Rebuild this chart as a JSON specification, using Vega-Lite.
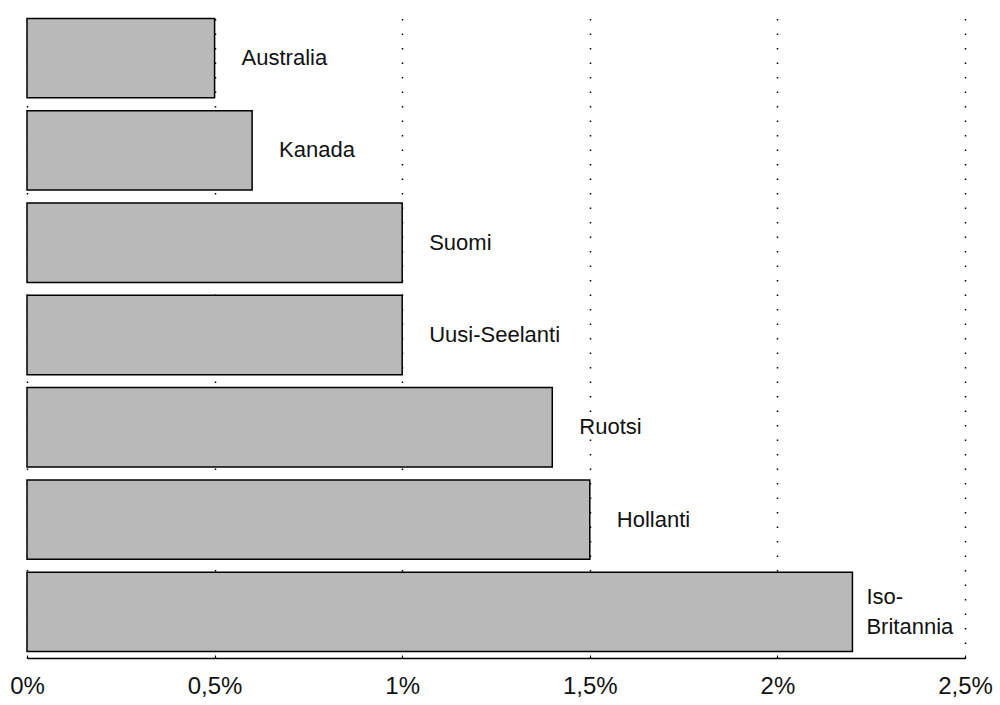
{
  "$schema": "https://vega.github.io/schema/vega-lite/v6.json",
  "width": 938,
  "height": 646,
  "autosize": {"type": "none"},
  "padding": {"left": 27, "top": 12, "right": 35, "bottom": 47},
  "background": "white",
  "config": {"view": {"stroke": null}, "font": "Liberation Sans"},
  "data": {
    "values": [
      {"maa": "Australia", "osuus": 0.5},
      {"maa": "Kanada", "osuus": 0.6},
      {"maa": "Suomi", "osuus": 1.0},
      {"maa": "Uusi-Seelanti", "osuus": 1.0},
      {"maa": "Ruotsi", "osuus": 1.4},
      {"maa": "Hollanti", "osuus": 1.5},
      {"maa": "Iso-Britannia", "osuus": 2.2}
    ]
  },
  "encoding": {
    "y": {
      "field": "maa",
      "type": "nominal",
      "sort": ["Australia", "Kanada", "Suomi", "Uusi-Seelanti", "Ruotsi", "Hollanti", "Iso-Britannia"],
      "scale": {"paddingInner": 0.14, "paddingOuter": 0.07},
      "axis": null
    }
  },
  "layer": [
    {
      "mark": {"type": "bar", "fill": "#b9b9b9", "stroke": "black", "strokeWidth": 1.5},
      "encoding": {
        "x": {
          "field": "osuus",
          "type": "quantitative",
          "scale": {"domain": [0, 2.5], "nice": false, "zero": true},
          "axis": {
            "values": [0, 0.5, 1, 1.5, 2, 2.5],
            "title": null,
            "grid": true,
            "gridColor": "black",
            "gridDash": [1.5, 13],
            "gridWidth": 1.5,
            "gridOpacity": 1,
            "domainColor": "black",
            "domainWidth": 1.5,
            "ticks": true,
            "tickSize": -3,
            "tickColor": "black",
            "labelFontSize": 24,
            "labelColor": "#111",
            "labelPadding": 19,
            "labelFlush": false,
            "labelExpr": "replace(format(datum.value, '~g'), '.', ',') + '%'"
          }
        }
      }
    },
    {
      "transform": [{"filter": "datum.maa != 'Iso-Britannia'"}],
      "mark": {"type": "text", "align": "left", "baseline": "middle", "dx": 27, "fontSize": 22, "color": "#111"},
      "encoding": {
        "x": {"field": "osuus", "type": "quantitative"},
        "text": {"field": "maa", "type": "nominal"}
      }
    },
    {
      "transform": [
        {"filter": "datum.maa == 'Iso-Britannia'"},
        {"calculate": "'Iso-\\nBritannia'", "as": "maa_label"}
      ],
      "mark": {"type": "text", "align": "left", "baseline": "middle", "dx": 14, "dy": -15, "fontSize": 22, "color": "#111", "lineBreak": "\n", "lineHeight": 30},
      "encoding": {
        "x": {"field": "osuus", "type": "quantitative"},
        "text": {"field": "maa_label", "type": "nominal"}
      }
    }
  ]
}
